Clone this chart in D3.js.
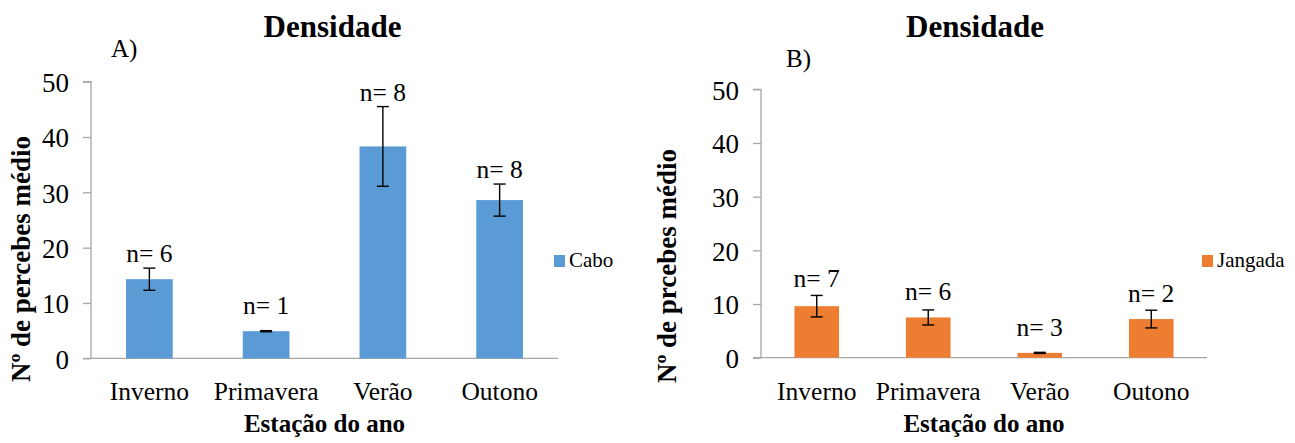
<!DOCTYPE html>
<html>
<head>
<meta charset="utf-8">
<script src="https://cdn.jsdelivr.net/npm/d3@7"></script>
<style>
  html, body { margin: 0; padding: 0; background: #fff; }
  svg text { font-family: "Liberation Serif", "Times New Roman", serif !important; }
</style>
</head>
<body>
<svg id="chart" width="1295" height="443"></svg>
<script>
// ---- data ----
const seasons = ["Inverno", "Primavera", "Verão", "Outono"];
const yTicks = [0, 10, 20, 30, 40, 50];

const caboMeans = [14.3, 4.9, 38.3, 28.6];
const caboErr   = [2.0, 0.1, 7.2, 2.9];
const caboN     = [6, 1, 8, 8];

const jangadaMeans = [9.6, 7.5, 0.9, 7.2];
const jangadaErr   = [2.0, 1.4, 0.1, 1.65];
const jangadaN     = [7, 6, 3, 2];

const svg = d3.select("#chart");
svg.append("rect").attr("width", 1295).attr("height", 443).attr("fill", "#fff");

function panel(o) {
  const g = svg.append("g");
  const x = d3.scaleBand().domain(seasons).range([o.x0, o.x1]).padding(0);
  const y = d3.scaleLinear().domain([0, 50]).range([o.yBottom, o.yTop]);
  const bw = x.bandwidth() * 0.4;

  // y axis
  const ya = g.append("g").attr("transform", `translate(${o.x0},0)`)
    .call(d3.axisLeft(y).tickValues(yTicks).tickSize(8).tickPadding(14).tickFormat(d3.format("d")));
  ya.select(".domain").attr("stroke", "#a6a6a6").attr("stroke-width", 1.3)
    .attr("d", `M-8,${y(50)}H0V${y(0)}`);
  ya.selectAll(".tick line").attr("stroke", "#a6a6a6").attr("stroke-width", 1.3);
  ya.selectAll(".tick text").attr("font-size", 27).attr("fill", "#000").attr("dy", "0.36em");

  // x axis
  const xa = g.append("g").attr("transform", `translate(0,${o.yBottom})`)
    .call(d3.axisBottom(x).tickSize(0).tickPadding(0));
  xa.select(".domain").attr("stroke", "#a6a6a6").attr("stroke-width", 1.3)
    .attr("d", `M${o.x0 - 8},0H${o.x1}`);
  xa.selectAll(".tick text").attr("font-size", 25.5).attr("fill", "#000")
    .attr("y", 0).attr("dy", 0)
    .attr("transform", `translate(0,${o.catBase - o.yBottom})`);

  // bars
  g.selectAll("rect.bar").data(o.means).join("rect").attr("class", "bar")
    .attr("x", (d, i) => x(seasons[i]) + x.bandwidth() / 2 - bw / 2)
    .attr("width", bw)
    .attr("y", d => y(d))
    .attr("height", d => y(0) - y(d))
    .attr("fill", o.color);

  // error bars
  const eg = g.append("g").attr("stroke", "#000").attr("stroke-width", 1.4);
  o.means.forEach((m, i) => {
    const cx = x(seasons[i]) + x.bandwidth() / 2;
    const e = o.err[i];
    eg.append("line").attr("x1", cx).attr("x2", cx).attr("y1", y(m + e)).attr("y2", y(m - e));
    eg.append("line").attr("x1", cx - 6).attr("x2", cx + 6).attr("y1", y(m + e)).attr("y2", y(m + e));
    eg.append("line").attr("x1", cx - 6).attr("x2", cx + 6).attr("y1", y(m - e)).attr("y2", y(m - e));
    // n labels
    const base = Math.min(y(m + e) - o.labGap, y(m) - 17);
    g.append("text").attr("x", cx).attr("y", base).attr("text-anchor", "middle")
      .attr("font-size", 25.5).text("n= " + o.n[i]);
  });

  // titles
  g.append("text").attr("x", o.titleX).attr("y", 37).attr("text-anchor", "middle")
    .attr("font-size", 31).attr("font-weight", "bold").text("Densidade");
  g.append("text").attr("x", o.tagX).attr("y", o.tagY).attr("font-size", 25).text(o.tag);
  g.append("text").attr("x", (o.x0 + o.x1) / 2).attr("y", 432).attr("text-anchor", "middle")
    .attr("font-size", 25).attr("font-weight", "bold").text("Estação do ano");
  g.append("text").attr("transform", `translate(${o.yTitleX},${o.yTitleY}) rotate(-90)`)
    .attr("text-anchor", "middle").attr("font-size", 27).attr("font-weight", "bold").text(o.yTitle);

  // legend
  g.append("rect").attr("x", o.legX).attr("y", 255).attr("width", 11).attr("height", 12).attr("fill", o.color);
  g.append("text").attr("x", o.legX + 15).attr("y", 267).attr("font-size", 21).text(o.name);
}

panel({
  x0: 91, x1: 558, yTop: 81.7, yBottom: 358.3, catBase: 400,
  means: caboMeans, err: caboErr, n: caboN, color: "#5b9bd5", labGap: 6,
  titleX: 332.5, tag: "A)", tagX: 111, tagY: 57,
  yTitle: "Nº de percebes médio", yTitleX: 30, yTitleY: 259,
  legX: 554, name: "Cabo"
});

panel({
  x0: 761, x1: 1207, yTop: 89.3, yBottom: 357.7, catBase: 400,
  means: jangadaMeans, err: jangadaErr, n: jangadaN, color: "#ed7d31", labGap: 8,
  titleX: 975, tag: "B)", tagX: 786, tagY: 67,
  yTitle: "Nº de prcebes médio", yTitleX: 676, yTitleY: 266,
  legX: 1202, name: "Jangada"
});
</script>
</body>
</html>
